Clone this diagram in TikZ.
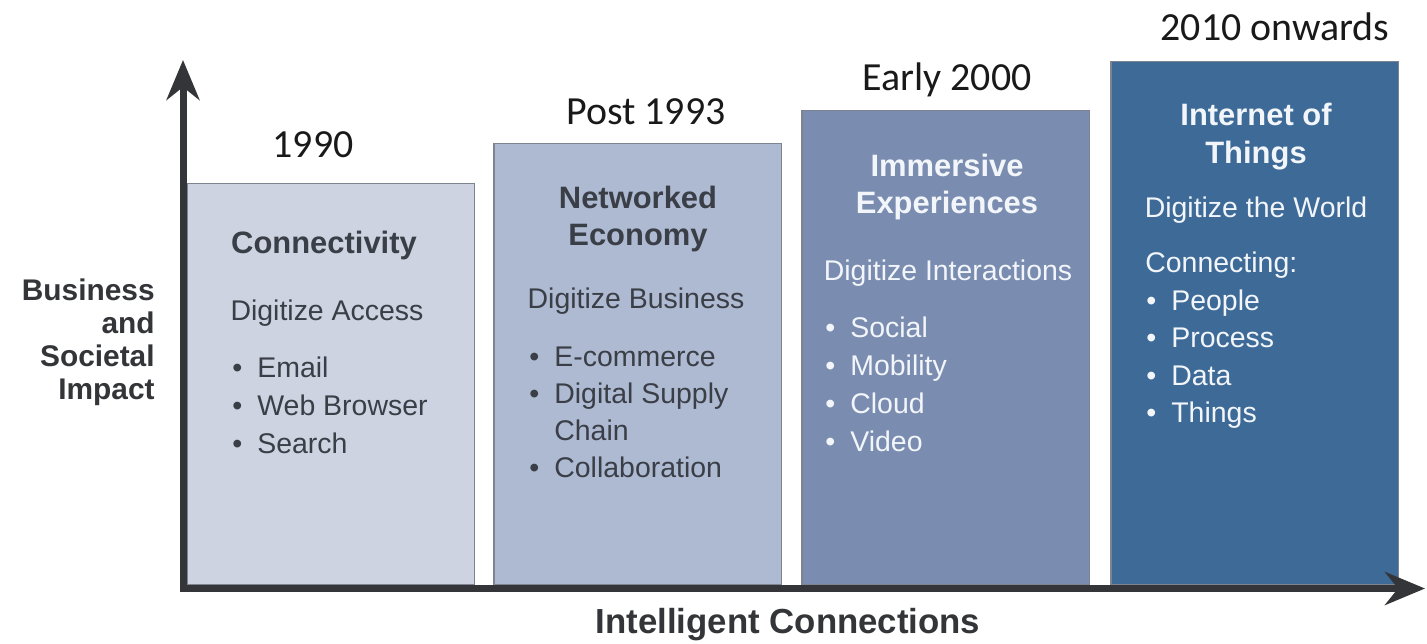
\documentclass[tikz,border=0pt]{standalone}
\usepackage{fontspec}
\setmainfont{Liberation Sans}
\newfontfamily\yearfont{Carlito}
\usetikzlibrary{arrows.meta, positioning}
\definecolor{axisdark}{HTML}{333538}
\definecolor{eraA}{HTML}{CDD3E1}
\definecolor{eraB}{HTML}{AEBAD2}
\definecolor{eraC}{HTML}{7A8DB0}
\definecolor{eraD}{HTML}{3D6A97}
\definecolor{inkdark}{HTML}{3A3E46}
\definecolor{inklight}{HTML}{F2F5F9}
\definecolor{edgegray}{HTML}{7E848F}
\newcommand{\bul}{\makebox[0.5cm][l]{\textbullet}}

\begin{document}
\begin{tikzpicture}[x=0.02cm, y=-0.02cm,
      era/.style={draw=edgegray, line width=0.6pt, minimum width=5.76cm, inner sep=0pt, outer sep=0pt, anchor=south west},
      head/.style={font=\bfseries\fontsize{17.6}{21}\selectfont, anchor=base, inner sep=0pt},
      sub/.style={font=\fontsize{16.2}{20}\selectfont, anchor=base, inner sep=0pt},
      item/.style={font=\fontsize{16.2}{20}\selectfont, anchor=base west, inner sep=0pt},
      year/.style={font=\yearfont\fontsize{22.7}{27}\selectfont, text=black!90, anchor=base, inner sep=0pt},
      axislbl/.style={font=\bfseries\fontsize{17}{20}\selectfont, text=axisdark, inner sep=0pt},
      axis/.style={{Stealth[length=0.8cm, width=0.66cm]}-{Stealth[length=0.8cm, width=0.66cm]}, line width=0.14cm, draw=axisdark}
    ]
    \useasboundingbox (0,0) rectangle (1427,643);

    % the four eras
    \node[era, fill=eraA, minimum height=8.04cm] (conn) at (187,585) {};
    \node[era, fill=eraB, minimum height=8.84cm] (netw) at (494,585) {};
    \node[era, fill=eraC, minimum height=9.5cm]  (imme) at (802,585) {};
    \node[era, fill=eraD, minimum height=10.48cm] (iot) at (1111,585) {};

    % axes
    \coordinate (ytip) at (183,60);
    \coordinate (corner) at (183,588.5);
    \coordinate (xtip) at (1425,588.5);
    \draw[axis] (ytip) -- (corner) -- (xtip);

    % years
    \node[year] (y1990) at (313,157) {1990};
    \node[year] (y1993) at (646,124) {Post 1993};
    \node[year] (y2000) at (947,90) {Early 2000};
    \node[year] (y2010) at (1275,40) {2010 onwards};

    % axis labels
    \node[axislbl, anchor=base east] (biz1) at (155,300) {Business};
    \node[axislbl, anchor=base east] (biz2) at (155,333) {and};
    \node[axislbl, anchor=base east] (biz3) at (155,366) {Societal};
    \node[axislbl, anchor=base east] (biz4) at (155,399) {Impact};
    \node[axislbl, font=\bfseries\fontsize{19.8}{24}\selectfont, anchor=base] (intel) at (788,633) {Intelligent Connections};

    % Connectivity
    \node[head, text=inkdark] (conn-h) at (324,253) {Connectivity};
    \node[sub, text=inkdark] (conn-s) at (327,320) {Digitize Access};
    \foreach \t [count=\i from 0] in {Email, Web Browser, Search}
      \node[item, text=inkdark] (conn-i\i) at (232,{377+38*\i}) {\bul\t};

    % Networked Economy
    \node[head, text=inkdark] (netw-h1) at (638,208) {Networked};
    \node[head, text=inkdark] (netw-h2) at (638,245) {Economy};
    \node[sub, text=inkdark] (netw-s) at (636,308) {Digitize Business};
    \node[item, text=inkdark] (netw-i0) at (529,366) {\bul E-commerce};
    \node[item, text=inkdark] (netw-i1) at (529,403) {\bul Digital Supply};
    \node[item, text=inkdark] (netw-i1b) at (554,440) {Chain};
    \node[item, text=inkdark] (netw-i2) at (529,477) {\bul Collaboration};

    % Immersive Experiences
    \node[head, text=inklight] (imme-h1) at (947,176) {Immersive};
    \node[head, text=inklight] (imme-h2) at (947,213) {Experiences};
    \node[sub, text=inklight] (imme-s) at (948,280) {Digitize Interactions};
    \foreach \t [count=\i from 0] in {Social, Mobility, Cloud, Video}
      \node[item, text=inklight] (imme-i\i) at (825,{337+38.3*\i}) {\bul\t};

    % Internet of Things
    \node[head, text=inklight] (iot-h1) at (1256,125) {Internet of};
    \node[head, text=inklight] (iot-h2) at (1256,163) {Things};
    \node[sub, text=inklight] (iot-s) at (1256,217) {Digitize the World};
    \node[item, text=inklight] (iot-c) at (1145,272) {Connecting:};
    \foreach \t [count=\i from 0] in {People, Process, Data, Things}
      \node[item, text=inklight] (iot-i\i) at (1146,{310+37.5*\i}) {\bul\t};
  \end{tikzpicture}
\end{document}
